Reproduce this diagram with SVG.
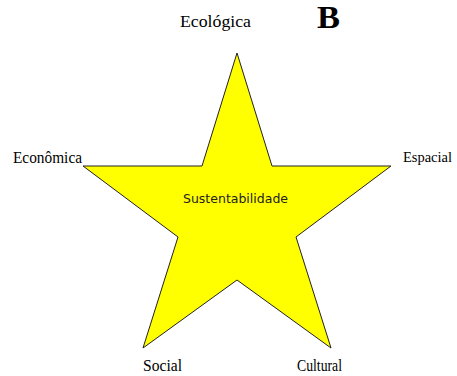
<svg xmlns="http://www.w3.org/2000/svg" width="457" height="376" viewBox="0 0 457 376">
<style>
.lbl{font-family:"Liberation Serif","Times New Roman",serif;font-size:16px;fill:#000}
.star{fill:#ffff00;stroke:#222;stroke-width:1}
.center{font-family:"DejaVu Sans",Verdana,sans-serif;font-size:13px;fill:#222}
</style>
<rect width="457" height="376" fill="#fff"/>
<g id="star">
<polygon class="star" points="237,53 272,166 391,166 296,237 331,348 237,280 143,348 178,237 83,166 202,166"/>
<text class="center" x="183" y="203" textLength="105" lengthAdjust="spacingAndGlyphs">Sustentabilidade</text>
</g>
<g id="labels">
<text id="ecologica" class="lbl" x="180" y="27" style="font-size:17px" textLength="71" lengthAdjust="spacingAndGlyphs">Ecológica</text>
<text id="b" x="317" y="28" style="font-family:'Liberation Serif','Times New Roman',serif;font-size:31px;font-weight:bold" textLength="23" lengthAdjust="spacingAndGlyphs">B</text>
<text id="economica" class="lbl" x="13" y="163" textLength="69" lengthAdjust="spacingAndGlyphs">Econômica</text>
<text id="espacial" class="lbl" x="403" y="162" style="font-size:15px" textLength="49" lengthAdjust="spacingAndGlyphs">Espacial</text>
<text id="social" class="lbl" x="143" y="371" textLength="39" lengthAdjust="spacingAndGlyphs">Social</text>
<text id="cultural" class="lbl" x="297" y="371" textLength="45" lengthAdjust="spacingAndGlyphs">Cultural</text>
</g>
</svg>
